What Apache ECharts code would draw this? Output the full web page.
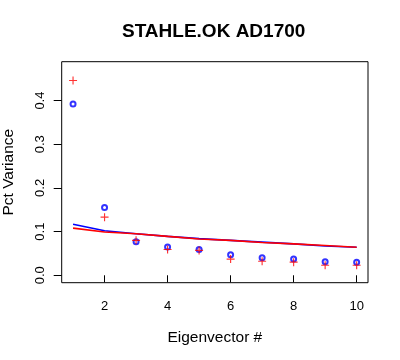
<!DOCTYPE html>
<html>
<head>
<meta charset="utf-8">
<script src="https://cdn.jsdelivr.net/npm/echarts@6/dist/echarts.min.js"></script>
<style>
html,body{margin:0;padding:0;background:#fff;}
#chart{width:400px;height:360px;}
</style>
</head>
<body>
<div id="chart"></div>
<script>
var titleText = "STAHLE.OK AD1700";
var xName = "Eigenvector #";
var yName = "Pct Variance";
var eigenvectors = [1, 2, 3, 4, 5, 6, 7, 8, 9, 10];
var bluePoints = [0.392, 0.155, 0.077, 0.065, 0.059, 0.047, 0.040, 0.037, 0.031, 0.030];
var redPoints = [0.446, 0.133, 0.080, 0.059, 0.057, 0.037, 0.032, 0.030, 0.023, 0.023];
var blueLine = [0.117, 0.102, 0.095, 0.089, 0.084, 0.080, 0.076, 0.072, 0.067, 0.064];
var redLine = [0.108, 0.099, 0.095, 0.089, 0.083, 0.080, 0.075, 0.072, 0.068, 0.064];
var xTicks = [2, 4, 6, 8, 10];
var yTicks = [0, 0.1, 0.2, 0.3, 0.4];

function pairs(xs, ys) { return xs.map(function (x, i) { return [x, ys[i]]; }); }

var FONT = "Liberation Sans, Arial, sans-serif";
var plusPath = 'path://M0,3L3,3L3,0L4,0L4,3L7,3L7,4L4,4L4,7L3,7L3,4L0,4Z';

var chart = echarts.init(document.getElementById('chart'), null, {renderer: 'canvas'});
chart.setOption({
  animation: false,
  backgroundColor: '#ffffff',
  title: {
    text: titleText,
    left: 117, top: 17,
    textStyle: {fontFamily: FONT, fontSize: 19, fontWeight: 'bold', color: '#000'}
  },
  grid: {
    left: 61.7, right: 32, top: 61.7, bottom: 77.3,
    containLabel: false, outerBoundsMode: 'none',
    show: true, borderColor: '#000', borderWidth: 1, backgroundColor: 'transparent'
  },
  xAxis: {
    type: 'value', min: 0.64, max: 10.36,
    name: xName, nameLocation: 'middle', nameGap: 47,
    nameTextStyle: {fontFamily: FONT, fontSize: 15.5, color: '#000'},
    axisLine: {show: false},
    splitLine: {show: false},
    axisTick: {show: true, inside: false, length: 7, customValues: xTicks, lineStyle: {color: '#000', width: 1}},
    axisLabel: {customValues: xTicks, margin: 17, fontFamily: FONT, fontSize: 13, color: '#000'}
  },
  yAxis: {
    type: 'value', min: -0.017, max: 0.489,
    name: yName, nameLocation: 'middle', nameGap: 45,
    nameTextStyle: {fontFamily: FONT, fontSize: 15.5, color: '#000'},
    axisLine: {show: false},
    splitLine: {show: false},
    axisTick: {show: true, inside: false, length: 8, customValues: yTicks, lineStyle: {color: '#000', width: 1}},
    axisLabel: {
      customValues: yTicks, rotate: 90, margin: 15, fontFamily: FONT, fontSize: 13, color: '#000',
      formatter: function (v) { return v.toFixed(1); }
    }
  },
  series: [
    {type: 'line', data: pairs(eigenvectors, blueLine), showSymbol: false, symbol: 'none',
     lineStyle: {color: '#0000ff', width: 1.6}, z: 2},
    {type: 'line', data: pairs(eigenvectors, redLine), showSymbol: false, symbol: 'none',
     lineStyle: {color: '#ff0000', width: 1.6}, z: 3},
    {type: 'scatter', data: pairs(eigenvectors, bluePoints), symbol: 'emptyCircle', symbolSize: 5,
     itemStyle: {color: '#0000ff', borderColor: '#0000ff', borderWidth: 1}, z: 4},
    {type: 'scatter', data: pairs(eigenvectors, redPoints), symbol: plusPath, symbolSize: 8,
     itemStyle: {color: '#ff0000'}, z: 5}
  ]
});
</script>
</body>
</html>
